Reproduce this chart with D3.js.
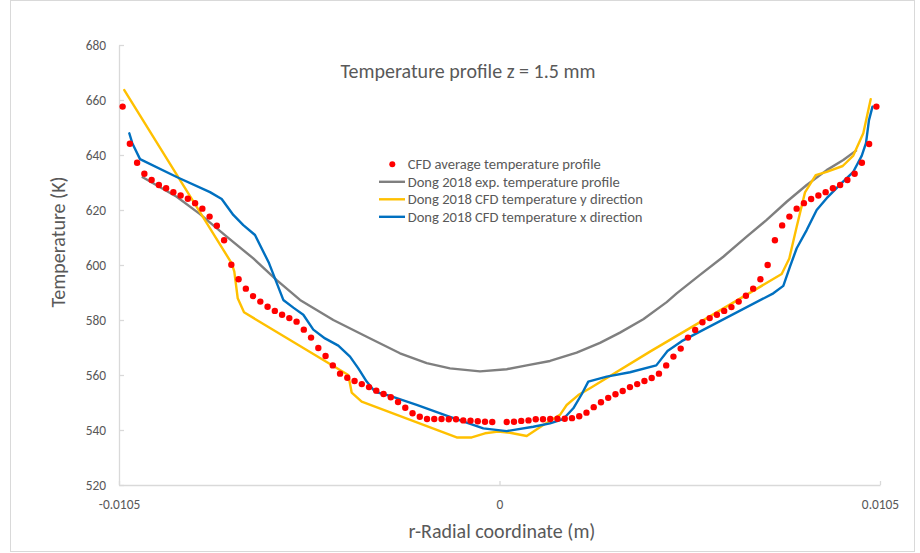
<!DOCTYPE html>
<html>
<head>
<meta charset="utf-8">
<script src="https://cdn.jsdelivr.net/npm/d3@7/dist/d3.min.js"></script>
<style>
  html, body { margin: 0; padding: 0; background: #fff; }
  svg { display: block; }
  text { font-family: Carlito, Calibri, Lato, sans-serif; fill: #595959; }
</style>
</head>
<body>
<svg id="chart" width="920" height="553"></svg>
<script>
// ---------------- DATA ----------------
const chartTitle = "Temperature profile z = 1.5 mm";
const xTitle = "r-Radial coordinate (m)";
const yTitle = "Temperature (K)";
const xTickValues = [-0.0105, 0, 0.0105];
const xTickLabels = ["-0.0105", "0", "0.0105"];
const yTickValues = [520, 540, 560, 580, 600, 620, 640, 660, 680];
const seriesNames = [
  "CFD average temperature profile",
  "Dong 2018 exp. temperature profile",
  "Dong 2018 CFD temperature y direction",
  "Dong 2018 CFD temperature x direction"
];

// CFD average temperature profile (markers)
const cfdR = [
  -0.0104, -0.0102, -0.0100, -0.0098, -0.0096, -0.0094, -0.0092, -0.0090, -0.0088, -0.0086,
  -0.0084, -0.0082, -0.0080, -0.0078, -0.0076, -0.0074, -0.0072, -0.0070, -0.0068, -0.0066,
  -0.0064, -0.0062, -0.0060, -0.0058, -0.0056, -0.0054, -0.0052, -0.0050, -0.0048, -0.0046,
  -0.0044, -0.0042, -0.0040, -0.0038, -0.0036, -0.0034, -0.0032, -0.0030, -0.0028, -0.0026,
  -0.0024, -0.0022, -0.0020, -0.0018, -0.0016, -0.0014, -0.0012, -0.0010, -0.0008, -0.0006,
  -0.0004, -0.0002,
  0.0002, 0.0004, 0.0006, 0.0008, 0.0010, 0.0012, 0.0014, 0.0016, 0.0018, 0.0020,
  0.0022, 0.0024, 0.0026, 0.0028, 0.0030, 0.0032, 0.0034, 0.0036, 0.0038, 0.0040,
  0.0042, 0.0044, 0.0046, 0.0048, 0.0050, 0.0052, 0.0054, 0.0056, 0.0058, 0.0060,
  0.0062, 0.0064, 0.0066, 0.0068, 0.0070, 0.0072, 0.0074, 0.0076, 0.0078, 0.0080,
  0.0082, 0.0084, 0.0086, 0.0088, 0.0090, 0.0092, 0.0094, 0.0096, 0.0098, 0.0100,
  0.0102, 0.0104
];
const cfdT = [
  657.6, 644.1, 637.2, 633.2, 630.9, 629.1, 627.9, 626.5, 625.3, 624.1,
  622.5, 620.5, 617.6, 614.3, 609.0, 600.1, 594.8, 591.4, 588.7, 586.7,
  584.8, 583.3, 581.9, 580.7, 579.4, 576.5, 573.6, 569.8, 566.9, 563.5,
  560.5, 559.0, 557.8, 556.7, 555.6, 554.3, 553.1, 551.9, 550.2, 548.1,
  546.1, 544.8, 544.0, 544.0, 544.0, 543.9, 543.9, 543.5, 543.4, 543.2,
  543.0, 542.9,
  542.9, 543.0, 543.3, 543.5, 543.9, 543.9, 544.0, 544.1, 544.1, 544.3,
  545.0, 546.3, 548.3, 550.1, 551.7, 553.0, 554.2, 555.6, 556.7, 557.8,
  558.9, 560.5, 563.5, 566.7, 569.6, 573.6, 576.4, 579.2, 580.7, 581.9,
  583.3, 584.7, 586.7, 588.8, 591.4, 594.8, 600.0, 609.0, 614.4, 617.6,
  620.5, 622.5, 624.0, 625.3, 626.5, 627.9, 629.1, 630.9, 633.2, 637.2,
  644.0, 657.6
];

// Dong 2018 exp. temperature profile (gray)
const expR = [-0.009846, -0.008908, -0.008265, -0.007528, -0.006794, -0.006148, -0.005505, -0.004586,
  -0.003665, -0.002746, -0.002009, -0.001366, -0.000538, 0.000199, 0.000751, 0.001394, 0.002130,
  0.002773, 0.003325, 0.003968, 0.004614, 0.004890, 0.005533, 0.006176, 0.006821, 0.007373,
  0.007925, 0.008477, 0.009029, 0.009487, 0.009838];
const expT = [631.9, 624.8, 618.5, 610.3, 602.4, 594.5, 587.3, 580.0,
  573.9, 567.9, 564.3, 562.4, 561.3, 562.1, 563.5, 565.1, 568.1,
  571.7, 575.4, 580.3, 586.5, 589.7, 596.4, 603.0, 610.3, 616.4,
  623.0, 629.1, 634.5, 638.2, 641.6];

// Dong 2018 CFD temperature y direction (yellow)
const yDirR = [-0.010354, -0.007390, -0.007318, -0.007224, -0.007050, -0.004172, -0.004079, -0.003803,
  -0.001181, -0.000767, -0.000400, -0.000041, 0.000290, 0.000751, 0.001209, 0.001669, 0.001854,
  0.002174, 0.002497, 0.004153, 0.007787, 0.007997, 0.008201, 0.008430, 0.008726, 0.009029,
  0.009471, 0.009763, 0.010039, 0.010243];
const yDirT = [663.6, 600.6, 597.6, 587.9, 582.8, 560.0, 553.6, 550.3,
  537.3, 537.3, 538.8, 539.4, 539.0, 537.8, 541.8, 545.5, 549.1,
  552.7, 555.2, 568.5, 596.7, 602.4, 613.9, 626.4, 632.7, 633.9,
  636.0, 639.8, 647.9, 660.3];

// Dong 2018 CFD temperature x direction (blue)
const xDirR = [-0.010216, -0.010133, -0.009920, -0.008908, -0.007989, -0.007666, -0.007346, -0.007070,
  -0.006747, -0.006361, -0.005966, -0.005690, -0.005414, -0.005138, -0.004815, -0.004448, -0.004125,
  -0.003896, -0.003665, -0.003436, -0.003022, -0.002285, -0.001366, -0.000447, 0.000199, 0.000933,
  0.001394, 0.001761, 0.002037, 0.002268, 0.002450, 0.002958, 0.003601, 0.004327, 0.004636,
  0.005028, 0.007556, 0.007832, 0.008016, 0.008201, 0.008477, 0.008753, 0.009029, 0.009396,
  0.009763, 0.009995, 0.010113, 0.010196, 0.010293];
const xDirT = [647.9, 644.3, 638.5, 632.0, 626.5, 624.0, 618.2, 614.5,
  610.9, 600.7, 587.3, 584.5, 581.9, 576.5, 573.3, 570.7, 566.7,
  562.4, 557.6, 553.9, 552.4, 549.1, 544.8, 540.6, 539.6, 541.2,
  542.4, 544.0, 547.9, 553.0, 557.6, 559.4, 561.0, 563.5, 568.7,
  572.3, 589.7, 592.4, 599.4, 606.1, 612.7, 620.0, 624.3, 629.2,
  633.9, 639.7, 644.3, 652.7, 657.6];

// ---------------- CHART ----------------
const svg = d3.select("#chart");
const plot = { left: 119, right: 880, top: 45, bottom: 485 };

const x = d3.scaleLinear().domain([-0.0105, 0.0105]).range([plot.left, plot.right]);
const y = d3.scaleLinear().domain([520, 680]).range([plot.bottom, plot.top]);

// outer chart border
svg.append("rect")
  .attr("x", 10.5).attr("y", 0.5).attr("width", 904).attr("height", 551)
  .attr("fill", "#fff").attr("stroke", "#d9d9d9").attr("stroke-width", 1);

const axisColor = "#d9d9d9";
const FONT = "Carlito, Calibri, Lato, sans-serif";

// x axis
const xAxis = d3.axisBottom(x)
  .tickValues(xTickValues)
  .tickFormat((d, i) => xTickLabels[i])
  .tickSizeInner(-4).tickSizeOuter(0).tickPadding(14);
const gx = svg.append("g").attr("transform", `translate(0,${plot.bottom})`).call(xAxis);
gx.select(".domain").attr("stroke", axisColor).attr("stroke-width", 1.3);
gx.selectAll(".tick line").attr("stroke", axisColor).attr("stroke-width", 1.3);
gx.selectAll(".tick text").attr("font-size", 13.4).attr("fill", "#595959").style("font-family", FONT);

// y axis
const yAxis = d3.axisLeft(y)
  .tickValues(yTickValues)
  .tickSizeInner(-5).tickSizeOuter(0).tickPadding(13);
const gy = svg.append("g").attr("transform", `translate(${plot.left},0)`).call(yAxis);
gy.select(".domain").attr("stroke", axisColor).attr("stroke-width", 1.3);
gy.selectAll(".tick line").attr("stroke", axisColor).attr("stroke-width", 1.3);
gy.selectAll(".tick text").attr("font-size", 13.4).attr("fill", "#595959").style("font-family", FONT);

// lines
const line = d3.line().x(d => x(d[0])).y(d => y(d[1]));
const mk = (R, T) => R.map((r, i) => [r, T[i]]);

const seriesLines = [
  { data: mk(expR, expT), color: "#7f7f7f" },
  { data: mk(yDirR, yDirT), color: "#ffc000" },
  { data: mk(xDirR, xDirT), color: "#0070c0" }
];
seriesLines.forEach(s => {
  svg.append("path").datum(s.data)
    .attr("d", line).attr("fill", "none")
    .attr("stroke", s.color).attr("stroke-width", 2.4)
    .attr("stroke-linejoin", "round").attr("stroke-linecap", "round");
});

// markers
svg.append("g").selectAll("circle").data(mk(cfdR, cfdT)).join("circle")
  .attr("cx", d => x(d[0])).attr("cy", d => y(d[1]))
  .attr("r", 3.2).attr("fill", "#ff0000");

// title
svg.append("text").attr("x", 468).attr("y", 71).attr("text-anchor", "middle")
  .attr("dominant-baseline", "central").attr("font-size", 20).text(chartTitle);

// axis titles
svg.append("text").attr("x", 502).attr("y", 531).attr("text-anchor", "middle")
  .attr("dominant-baseline", "central").attr("font-size", 20).text(xTitle);
svg.append("text").attr("transform", "translate(58,242) rotate(-90)")
  .attr("text-anchor", "middle").attr("dominant-baseline", "central")
  .attr("font-size", 20).text(yTitle);

// legend
const legendRows = [164.3, 181.8, 199.3, 216.8];
const legendColors = ["#ff0000", "#7f7f7f", "#ffc000", "#0070c0"];
const lg = svg.append("g");
seriesNames.forEach((name, i) => {
  const yy = legendRows[i];
  if (i === 0) {
    lg.append("circle").attr("cx", 392.3).attr("cy", yy).attr("r", 3).attr("fill", legendColors[i]);
  } else {
    lg.append("line").attr("x1", 379).attr("x2", 405).attr("y1", yy).attr("y2", yy)
      .attr("stroke", legendColors[i]).attr("stroke-width", 2.4);
  }
  lg.append("text").attr("x", 407.7).attr("y", yy).attr("dominant-baseline", "central")
    .attr("font-size", 14.6).text(name);
});
</script>
</body>
</html>
